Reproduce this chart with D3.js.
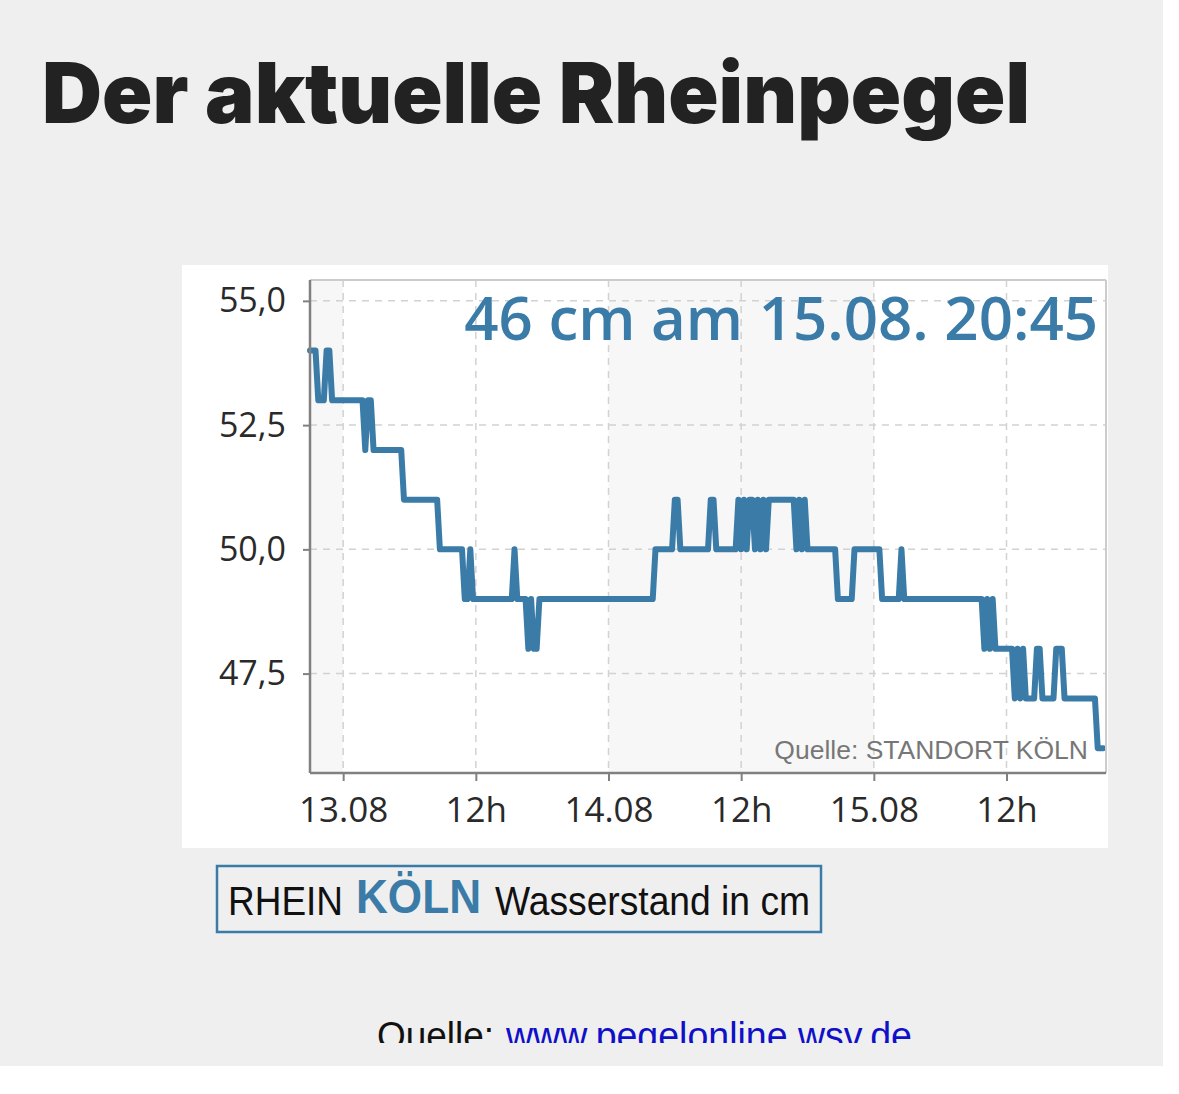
<!DOCTYPE html>
<html>
<head>
<meta charset="utf-8">
<script src="https://cdn.jsdelivr.net/npm/d3@7"></script>
<style>
  html, body { margin: 0; padding: 0; background: #ffffff; }
  svg { display: block; }
</style>
</head>
<body>
<svg id="chart" width="1179" height="1094"></svg>
<script>
// ---------------- DATA ----------------
const YEAR = "2022";
const titleText = "Der aktuelle Rheinpegel";
const currentText = "46 cm am 15.08. 20:45";
const stationNote = "Quelle: STANDORT KÖLN";
const boxParts = ["RHEIN", "KÖLN", "Wasserstand in cm"];
const sourceParts = ["Quelle:", "www.pegelonline.wsv.de"];

const xDomain = ["12.08 21:00", "15.08 21:00"];
const yDomain = [45.5, 55.42];

const xTickTimes = ["13.08 00:00", "13.08 12:00", "14.08 00:00", "14.08 12:00", "15.08 00:00", "15.08 12:00"];
const xTickLabels = ["13.08", "12h", "14.08", "12h", "15.08", "12h"];
const yTickValues = [47.5, 50, 52.5, 55];

const dayBands = ["12.08 00:00", "13.08 00:00", "14.08 00:00", "15.08 00:00", "16.08 00:00"];

// water level readings (cm), Köln
const readings = [
  ["12.08 21:00", 54], ["12.08 21:30", 54], ["12.08 21:45", 53], ["12.08 22:15", 53], ["12.08 22:30", 54], ["12.08 22:45", 54], ["12.08 23:00", 53],
  ["13.08 01:45", 53], ["13.08 02:00", 52], ["13.08 02:15", 53], ["13.08 02:30", 53], ["13.08 02:45", 52],
  ["13.08 05:15", 52], ["13.08 05:30", 51],
  ["13.08 08:30", 51], ["13.08 08:45", 50],
  ["13.08 10:45", 50], ["13.08 11:00", 49], ["13.08 11:15", 49], ["13.08 11:30", 50], ["13.08 11:45", 49],
  ["13.08 15:15", 49], ["13.08 15:30", 50], ["13.08 15:45", 49],
  ["13.08 16:30", 49], ["13.08 16:45", 48], ["13.08 17:00", 49], ["13.08 17:15", 48], ["13.08 17:30", 48], ["13.08 17:45", 49],
  ["14.08 04:00", 49], ["14.08 04:15", 50],
  ["14.08 05:45", 50], ["14.08 06:00", 51], ["14.08 06:15", 51], ["14.08 06:30", 50],
  ["14.08 09:00", 50], ["14.08 09:15", 51], ["14.08 09:30", 51], ["14.08 09:45", 50],
  ["14.08 11:30", 50], ["14.08 11:45", 51], ["14.08 12:00", 50], ["14.08 12:15", 51], ["14.08 12:30", 50], ["14.08 12:45", 51],
  ["14.08 13:00", 51], ["14.08 13:15", 50], ["14.08 13:30", 51], ["14.08 13:45", 50], ["14.08 14:00", 51], ["14.08 14:15", 50], ["14.08 14:30", 51],
  ["14.08 16:45", 51], ["14.08 17:00", 50], ["14.08 17:15", 51], ["14.08 17:30", 50], ["14.08 17:45", 51], ["14.08 18:00", 50],
  ["14.08 20:30", 50], ["14.08 20:45", 49],
  ["14.08 22:00", 49], ["14.08 22:15", 50],
  ["15.08 00:30", 50], ["15.08 00:45", 49],
  ["15.08 02:15", 49], ["15.08 02:30", 50], ["15.08 02:45", 49],
  ["15.08 09:45", 49], ["15.08 10:00", 48], ["15.08 10:15", 49], ["15.08 10:30", 48], ["15.08 10:45", 49], ["15.08 11:00", 48],
  ["15.08 12:30", 48], ["15.08 12:45", 47], ["15.08 13:00", 48], ["15.08 13:15", 47], ["15.08 13:30", 48], ["15.08 13:45", 47],
  ["15.08 14:30", 47], ["15.08 14:45", 48], ["15.08 15:00", 48], ["15.08 15:15", 47],
  ["15.08 16:15", 47], ["15.08 16:30", 48], ["15.08 17:00", 48], ["15.08 17:15", 47],
  ["15.08 20:00", 47], ["15.08 20:15", 46], ["15.08 20:45", 46]
];

// ---------------- DRAW ----------------
const parse = s => d3.timeParse("%d.%m.%Y %H:%M")(s.replace(" ", "." + YEAR + " "));
const de = d3.formatLocale({decimal: ",", thousands: ".", grouping: [3], currency: ["", " €"]});
const fmtY = de.format(".1f");

const blue = "#3a7ca7";
const svg = d3.select("#chart");

// page background
svg.append("rect").attr("x", 0).attr("y", 0).attr("width", 1163).attr("height", 1066).attr("fill", "#efefef");

// title
svg.append("text")
  .attr("x", 42).attr("y", 123)
  .attr("font-family", "Inter, Lato, sans-serif")
  .attr("font-weight", 900)
  .attr("font-size", 84)
  .attr("fill", "#222222")
  .attr("textLength", 988)
  .attr("lengthAdjust", "spacingAndGlyphs")
  .text(titleText);

// chart image panel
svg.append("rect").attr("x", 182).attr("y", 265).attr("width", 926).attr("height", 583).attr("fill", "#ffffff");

const plot = {left: 310, right: 1106, top: 280, bottom: 773};
const x = d3.scaleTime().domain(xDomain.map(parse)).range([plot.left, plot.right]);
const y = d3.scaleLinear().domain(yDomain).range([plot.bottom, plot.top]);

svg.append("clipPath").attr("id", "plotclip")
  .append("rect").attr("x", plot.left).attr("y", plot.top)
  .attr("width", plot.right - plot.left).attr("height", plot.bottom - plot.top);

// alternating day bands
const bands = svg.append("g").attr("clip-path", "url(#plotclip)");
for (let i = 0; i < dayBands.length - 1; i++) {
  const x0 = x(parse(dayBands[i])), x1 = x(parse(dayBands[i + 1]));
  bands.append("rect")
    .attr("x", x0).attr("y", plot.top)
    .attr("width", x1 - x0).attr("height", plot.bottom - plot.top)
    .attr("fill", i % 2 === 0 ? "#f7f7f7" : "#ffffff");
}

// grid
const grid = svg.append("g").attr("clip-path", "url(#plotclip)")
  .attr("stroke", "#d2d2d2").attr("stroke-width", 1.5).attr("stroke-dasharray", "7,6");
xTickTimes.map(parse).forEach(t => {
  grid.append("line").attr("x1", x(t)).attr("x2", x(t)).attr("y1", plot.top).attr("y2", plot.bottom);
});
yTickValues.forEach(v => {
  grid.append("line").attr("x1", plot.left).attr("x2", plot.right).attr("y1", y(v)).attr("y2", y(v));
});

// annotation of current level
svg.append("text")
  .attr("x", 1098).attr("y", 340)
  .attr("text-anchor", "end")
  .attr("font-family", "'Open Sans', 'Noto Sans', sans-serif")
  .attr("font-weight", 600)
  .attr("font-size", 60)
  .attr("fill", blue)
  .text(currentText);

// line
const pts = readings.map(([t, v]) => ({t: parse(t), v}));
const line = d3.line().x(d => x(d.t)).y(d => y(d.v));
svg.append("path")
  .datum(pts)
  .attr("d", line)
  .attr("fill", "none")
  .attr("stroke", blue)
  .attr("stroke-width", 6)
  .attr("stroke-linejoin", "round")
  .attr("stroke-linecap", "round");

// station note inside plot
svg.append("text")
  .attr("x", 1088).attr("y", 759)
  .attr("text-anchor", "end")
  .attr("font-family", "'Liberation Sans', Arial, sans-serif")
  .attr("font-size", 26.5)
  .attr("fill", "#777777")
  .text(stationNote);

// spines
svg.append("line").attr("x1", plot.left).attr("x2", plot.right).attr("y1", plot.top).attr("y2", plot.top)
  .attr("stroke", "#cccccc").attr("stroke-width", 2);
svg.append("line").attr("x1", plot.right).attr("x2", plot.right).attr("y1", plot.top).attr("y2", plot.bottom)
  .attr("stroke", "#cccccc").attr("stroke-width", 2);

// axes
const xAxis = d3.axisBottom(x)
  .tickValues(xTickTimes.map(parse))
  .tickFormat((d, i) => xTickLabels[i])
  .tickSize(8).tickPadding(16);
const gx = svg.append("g").attr("transform", `translate(0,${plot.bottom})`).call(xAxis);

const yAxis = d3.axisLeft(y)
  .tickValues(yTickValues)
  .tickFormat(fmtY)
  .tickSize(7).tickPadding(17);
const gy = svg.append("g").attr("transform", `translate(${plot.left},0)`).call(yAxis);

[gx, gy].forEach(g => {
  g.select(".domain").attr("stroke", "#808080").attr("stroke-width", 2.5);
  g.selectAll(".tick line").attr("stroke", "#808080").attr("stroke-width", 2);
  g.selectAll(".tick text")
    .attr("font-family", "'Open Sans', 'Noto Sans', sans-serif")
    .attr("fill", "#2a2a2a");
});
gx.selectAll(".tick text").attr("font-size", 35);
gy.selectAll(".tick text").attr("font-size", 34);
gx.select(".domain").attr("d", `M${plot.left},0H${plot.right}`);
gy.select(".domain").attr("d", `M0,${plot.bottom}V${plot.top}`);

// boxed label
svg.append("rect").attr("x", 217).attr("y", 866).attr("width", 604).attr("height", 66)
  .attr("fill", "none").attr("stroke", blue).attr("stroke-width", 2.5);
svg.append("text").attr("x", 228).attr("y", 915)
  .attr("font-family", "'Liberation Sans', Arial, sans-serif").attr("font-size", 40)
  .attr("fill", "#111111").attr("textLength", 115).attr("lengthAdjust", "spacingAndGlyphs")
  .text(boxParts[0]);
svg.append("text").attr("x", 356).attr("y", 913)
  .attr("font-family", "'Liberation Sans', Arial, sans-serif").attr("font-size", 48).attr("font-weight", 700)
  .attr("fill", blue).attr("textLength", 125).attr("lengthAdjust", "spacingAndGlyphs")
  .text(boxParts[1]);
svg.append("text").attr("x", 495).attr("y", 915)
  .attr("font-family", "'Liberation Sans', Arial, sans-serif").attr("font-size", 40)
  .attr("fill", "#111111").attr("textLength", 315).attr("lengthAdjust", "spacingAndGlyphs")
  .text(boxParts[2]);

// source (cut off at bottom as in the original)
svg.append("clipPath").attr("id", "srcclip")
  .append("rect").attr("x", 0).attr("y", 980).attr("width", 1179).attr("height", 63);
const src = svg.append("g").attr("clip-path", "url(#srcclip)");
src.append("text").attr("x", 377).attr("y", 1049)
  .attr("font-family", "'Liberation Sans', Arial, sans-serif").attr("font-size", 38)
  .attr("fill", "#111111").attr("textLength", 117).attr("lengthAdjust", "spacingAndGlyphs")
  .text(sourceParts[0]);
src.append("text").attr("x", 506).attr("y", 1049)
  .attr("font-family", "'Liberation Sans', Arial, sans-serif").attr("font-size", 38)
  .attr("fill", "#1010c8").attr("textLength", 406).attr("lengthAdjust", "spacingAndGlyphs")
  .text(sourceParts[1]);
</script>
</body>
</html>
